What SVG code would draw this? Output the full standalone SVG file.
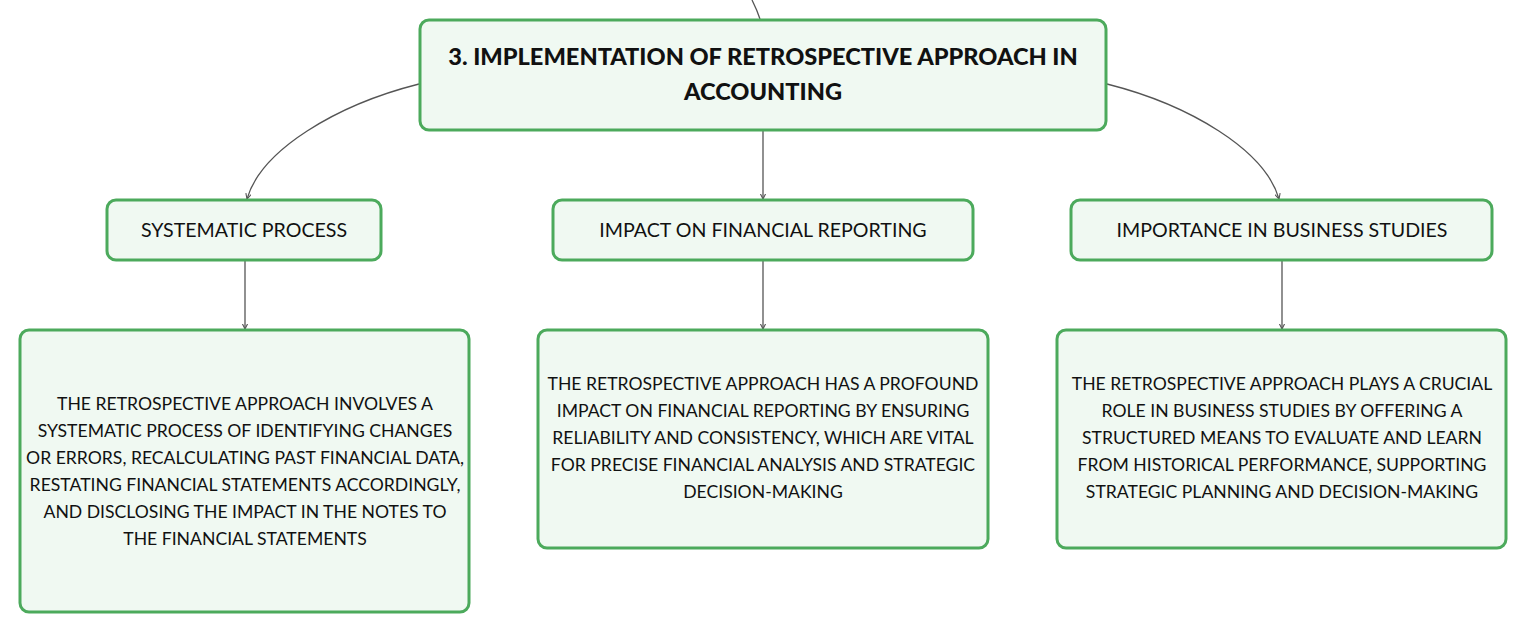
<svg xmlns="http://www.w3.org/2000/svg" width="1527" height="634" viewBox="0 0 1527 634">
<defs>
<style>
.node{fill:#f0f9f2;stroke:#4caa5c;stroke-width:3}
.conn{fill:none;stroke:#555;stroke-width:1.3}
.t{font-family:Lato,"Noto Sans","Liberation Sans",sans-serif;fill:#111;text-anchor:middle}
.root{font-size:23.6px;font-weight:900}
.lab{font-size:19.6px}
.det{font-size:17.6px}
</style>
<marker id="arr" viewBox="0 0 6 6" refX="5" refY="3" markerWidth="5" markerHeight="5" orient="auto">
<path d="M0,0.5 L5,3 L0,5.5" fill="none" stroke="#555" stroke-width="1"/>
</marker>
</defs>
<rect width="1527" height="634" fill="#fff"/>
<g id="connectors">
<path class="conn" d="M752,0 Q757,10 760,19"/>
<path class="conn" d="M419,84 C336,105 261,150 247,199" marker-end="url(#arr)"/>
<path class="conn" d="M1107,84 C1190,105 1265,150 1279,199" marker-end="url(#arr)"/>
<path class="conn" d="M763,131 L763,199" marker-end="url(#arr)"/>
<path class="conn" d="M245,261 L245,329" marker-end="url(#arr)"/>
<path class="conn" d="M763,261 L763,329" marker-end="url(#arr)"/>
<path class="conn" d="M1282,261 L1282,329" marker-end="url(#arr)"/>
</g>
<g id="root">
<rect class="node" x="420" y="20" width="686" height="110" rx="9"/>
<text class="t root" x="763" y="65">3. IMPLEMENTATION OF RETROSPECTIVE APPROACH IN</text>
<text class="t root" x="763" y="100">ACCOUNTING</text>
</g>
<g id="systematic">
<rect class="node" x="107" y="200" width="274" height="60" rx="9"/>
<text class="t lab" x="244" y="237">SYSTEMATIC PROCESS</text>
</g>
<g id="impact">
<rect class="node" x="553" y="200" width="420" height="60" rx="9"/>
<text class="t lab" x="763" y="237">IMPACT ON FINANCIAL REPORTING</text>
</g>
<g id="importance">
<rect class="node" x="1071" y="200" width="421" height="60" rx="9"/>
<text class="t lab" x="1282" y="237">IMPORTANCE IN BUSINESS STUDIES</text>
</g>
<g id="systematic-detail">
<rect class="node" x="20" y="330" width="449" height="282" rx="9"/>
<text class="t det" x="245" y="410">THE RETROSPECTIVE APPROACH INVOLVES A</text>
<text class="t det" x="245" y="437">SYSTEMATIC PROCESS OF IDENTIFYING CHANGES</text>
<text class="t det" x="245" y="464">OR ERRORS, RECALCULATING PAST FINANCIAL DATA,</text>
<text class="t det" x="245" y="491">RESTATING FINANCIAL STATEMENTS ACCORDINGLY,</text>
<text class="t det" x="245" y="518">AND DISCLOSING THE IMPACT IN THE NOTES TO</text>
<text class="t det" x="245" y="545">THE FINANCIAL STATEMENTS</text>
</g>
<g id="impact-detail">
<rect class="node" x="538" y="330" width="450" height="218" rx="9"/>
<text class="t det" x="763" y="390">THE RETROSPECTIVE APPROACH HAS A PROFOUND</text>
<text class="t det" x="763" y="417">IMPACT ON FINANCIAL REPORTING BY ENSURING</text>
<text class="t det" x="763" y="444">RELIABILITY AND CONSISTENCY, WHICH ARE VITAL</text>
<text class="t det" x="763" y="471">FOR PRECISE FINANCIAL ANALYSIS AND STRATEGIC</text>
<text class="t det" x="763" y="498">DECISION-MAKING</text>
</g>
<g id="importance-detail">
<rect class="node" x="1057" y="330" width="449" height="218" rx="9"/>
<text class="t det" x="1282" y="390">THE RETROSPECTIVE APPROACH PLAYS A CRUCIAL</text>
<text class="t det" x="1282" y="417">ROLE IN BUSINESS STUDIES BY OFFERING A</text>
<text class="t det" x="1282" y="444">STRUCTURED MEANS TO EVALUATE AND LEARN</text>
<text class="t det" x="1282" y="471">FROM HISTORICAL PERFORMANCE, SUPPORTING</text>
<text class="t det" x="1282" y="498">STRATEGIC PLANNING AND DECISION-MAKING</text>
</g>
</svg>
